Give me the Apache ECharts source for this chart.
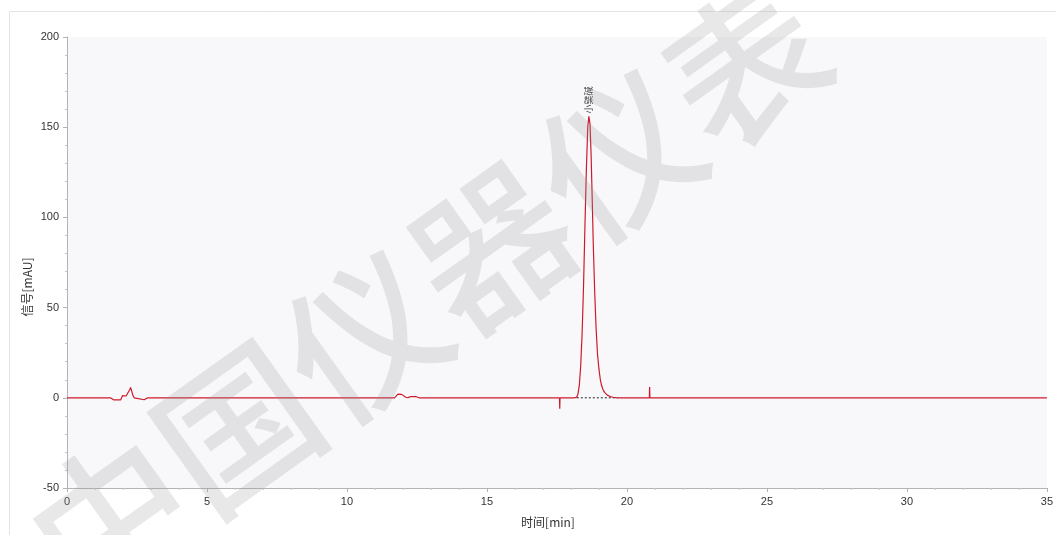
<!DOCTYPE html>
<html>
<head>
<meta charset="utf-8">
<script src="https://cdn.jsdelivr.net/npm/echarts@6/dist/echarts.min.js"></script>
<style>
html,body{margin:0;padding:0;background:#fff;}
#chart{width:1056px;height:535px;}
</style>
</head>
<body>
<div id="chart"></div>
<script>
// Chromatogram signal [time min, mAU]
const signal = [
  [0,0],[1.55,0],[1.62,-0.2],[1.66,-1.1],[1.92,-1.1],[1.98,1.2],[2.04,2.3],[2.11,1.0],[2.18,2.0],
  [2.24,4.5],[2.27,5.8],[2.31,3.8],[2.35,1.5],[2.40,0],[2.47,-1.0],[2.76,-1.1],[2.82,-0.5],[2.88,0],
  [11.70,0],[11.76,0.6],[11.82,2.0],[11.88,2.5],[11.95,1.9],[12.02,0.9],[12.10,0.3],[12.18,0.1],
  [12.26,0.6],[12.32,0.8],[12.45,0.7],[12.52,0.2],[12.58,0],
  [17.59,0],[17.60,-6],[17.61,0],
  [18.10,0],[18.20,0.2],[18.25,2],[18.30,7],[18.35,18],[18.40,36],[18.45,62],[18.50,95],[18.55,126],
  [18.60,150],[18.64,156],[18.68,152],[18.72,135],[18.76,110],[18.80,84],[18.85,58],[18.90,38],
  [18.95,24],[19.00,16],[19.05,10],[19.10,6.5],[19.15,4.5],[19.20,3],[19.30,1.5],[19.40,0.7],
  [19.50,0.3],[19.60,0.1],[19.70,0],
  [20.80,0],[20.81,6],[20.82,0],
  [35,0]
];
const peakBaseline = [[18.21,0],[19.67,0]];
const peakLabels = [{name:'小檗碱', value:[18.64,156]}];
const xTicks = {min:0, max:35, interval:5};
const yTicks = {min:-50, max:200, interval:50};
const xName = '时间[min]';
const yName = '信号[mAU]';
const watermark = '中国仪器仪表';

const chart = echarts.init(document.getElementById('chart'));
const axisCommon = {
  axisLine:{show:true, onZero:false, lineStyle:{color:'#b4b4b4', width:1}},
  axisTick:{show:true, length:4, lineStyle:{color:'#b4b4b4'}},
  minorTick:{show:true, splitNumber:5, length:2, lineStyle:{color:'#c4c4c4'}},
  splitLine:{show:false},
  axisLabel:{color:'#333', fontSize:11, fontFamily:'Liberation Sans, Arial, sans-serif'}
};
chart.setOption({
  animation:false,
  backgroundColor:'#ffffff',
  grid:{left:67, right:5, top:37, bottom:47, show:true, backgroundColor:'#f8f8fa', borderWidth:0},
  xAxis:Object.assign({type:'value', min:xTicks.min, max:xTicks.max, interval:xTicks.interval}, axisCommon,
    {axisLabel:Object.assign({}, axisCommon.axisLabel, {margin:8})}),
  yAxis:Object.assign({type:'value', min:yTicks.min, max:yTicks.max, interval:yTicks.interval}, axisCommon,
    {axisLabel:Object.assign({}, axisCommon.axisLabel, {margin:8})}),
  series:[
    {type:'line', data:peakBaseline, symbol:'none', silent:true,
     lineStyle:{color:'#222', width:1, type:[2,2]}, z:1},
    {type:'line', data:signal, symbol:'none', silent:true,
     lineStyle:{color:'#cc1a2c', width:1.2}, z:2},
    {type:'scatter', data:peakLabels, symbolSize:0, silent:true,
     label:{show:true, formatter:'{b}', position:'top', rotate:90, align:'left', verticalAlign:'middle',
       distance:3, fontSize:9, color:'#111', fontFamily:'"Noto Sans CJK SC", sans-serif'}, z:3}
  ],
  graphic:[
    {type:'rect', shape:{x:9.5, y:11.5, width:1060, height:540}, style:{fill:null, stroke:'#e4e4e4', lineWidth:1}, z:-10, silent:true},
    {type:'text', x:548, y:522, style:{text:xName, fill:'#333', font:'12px "Noto Sans CJK SC", sans-serif', textAlign:'center', textVerticalAlign:'middle'}},
    {type:'text', x:27, y:287, rotation:Math.PI/2, style:{text:yName, fill:'#333', font:'12px "Noto Sans CJK SC", sans-serif', textAlign:'center', textVerticalAlign:'middle'}},
    {type:'text', x:428, y:292, rotation:35.5*Math.PI/180, z:100, silent:true,
     style:{text:watermark, fill:'rgba(150,150,150,0.22)', font:'500 156px "Noto Sans CJK SC", sans-serif', textAlign:'center', textVerticalAlign:'middle'}}
  ]
});
</script>
</body>
</html>
